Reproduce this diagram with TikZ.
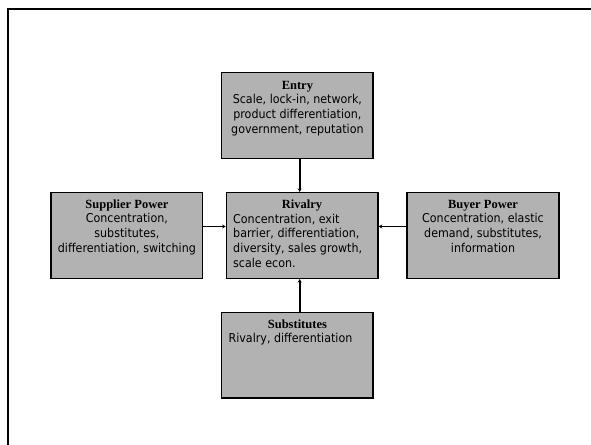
\documentclass[tikz,border=0pt]{standalone}
\usepackage{fontspec}
\usetikzlibrary{arrows.meta}
\newfontfamily\bodyfont[FakeStretch=0.91]{DejaVu Sans}
\newfontfamily\titlefont[BoldFont={Liberation Serif Bold}]{Liberation Serif}
\definecolor{boxgray}{RGB}{178,178,178}
\begin{document}
\begin{tikzpicture}[x=1pt,y=-1pt,
  box/.style={draw=black, line width=1.5pt, fill=boxgray, minimum width=151.6pt, minimum height=85.6pt, inner sep=0pt},
  lbl/.style={inner sep=0pt, font=\bodyfont\fontsize{12.2}{14.7}\selectfont},
  arr/.style={line width=1.6pt, -{Stealth[length=3.5pt,width=4pt]}}]
\useasboundingbox (0,0) rectangle (591,444);
\clip (0,0) rectangle (591,444);
\draw[line width=2pt] (7.5,9.3) rectangle (620,470);
% boxes
\node[box] (entry) at (297.4,115.5) {};
\node[box] (rival) at (302.2,235.5) {};
\node[box] (sup) at (126.9,235.5) {};
\node[box] (buyer) at (483,235.5) {};
\node[box] (subst) at (297.4,355.2) {};
% texts
\node[lbl, align=center, anchor=north] (entrytxt) at (297.4,79)
  {\rule{0pt}{10pt}{\titlefont\bfseries\fontsize{12.5}{14.7}\selectfont Entry}\\Scale, lock-in, network,\\product differentiation,\\government, reputation};
\node[lbl, align=center, anchor=north] (suptxt) at (126.9,198)
  {\rule{0pt}{10pt}{\titlefont\bfseries\fontsize{12.5}{14.7}\selectfont Supplier Power}\\Concentration,\\substitutes,\\differentiation, switching};
\node[lbl, align=center, anchor=north] (buytxt) at (483,198)
  {\rule{0pt}{10pt}{\titlefont\bfseries\fontsize{12.5}{14.7}\selectfont Buyer Power}\\Concentration, elastic\\demand, substitutes,\\information};
\node[lbl, align=center, anchor=north] (rivttl) at (302,198)
  {\rule{0pt}{10pt}{\titlefont\bfseries\fontsize{12.5}{14.7}\selectfont Rivalry}};
\node[lbl, align=left, anchor=north west] (rivtxt) at (233,213)
  {\rule{0pt}{10pt}Concentration, exit\\barrier, differentiation,\\diversity, sales growth,\\scale econ.};
\node[lbl, align=center, anchor=north] (subttl) at (297.4,318)
  {\rule{0pt}{10pt}{\titlefont\bfseries\fontsize{12.5}{14.7}\selectfont Substitutes}};
\node[lbl, align=left, anchor=north west] (subtxt) at (228.4,332.3)
  {\rule{0pt}{10pt}Rivalry, differentiation};
% arrows
\draw[arr] ([xshift=2.3pt]entry.south) -- ([xshift=-2.5pt]rival.north);
\draw[arr] ([yshift=9pt]sup.east) -- ([yshift=9pt]rival.west);
\draw[arr] ([yshift=9pt]buyer.west) -- ([yshift=9pt]rival.east);
\draw[arr] ([xshift=2.3pt]subst.north) -- ([xshift=-2.5pt]rival.south);
\end{tikzpicture}
\end{document}
